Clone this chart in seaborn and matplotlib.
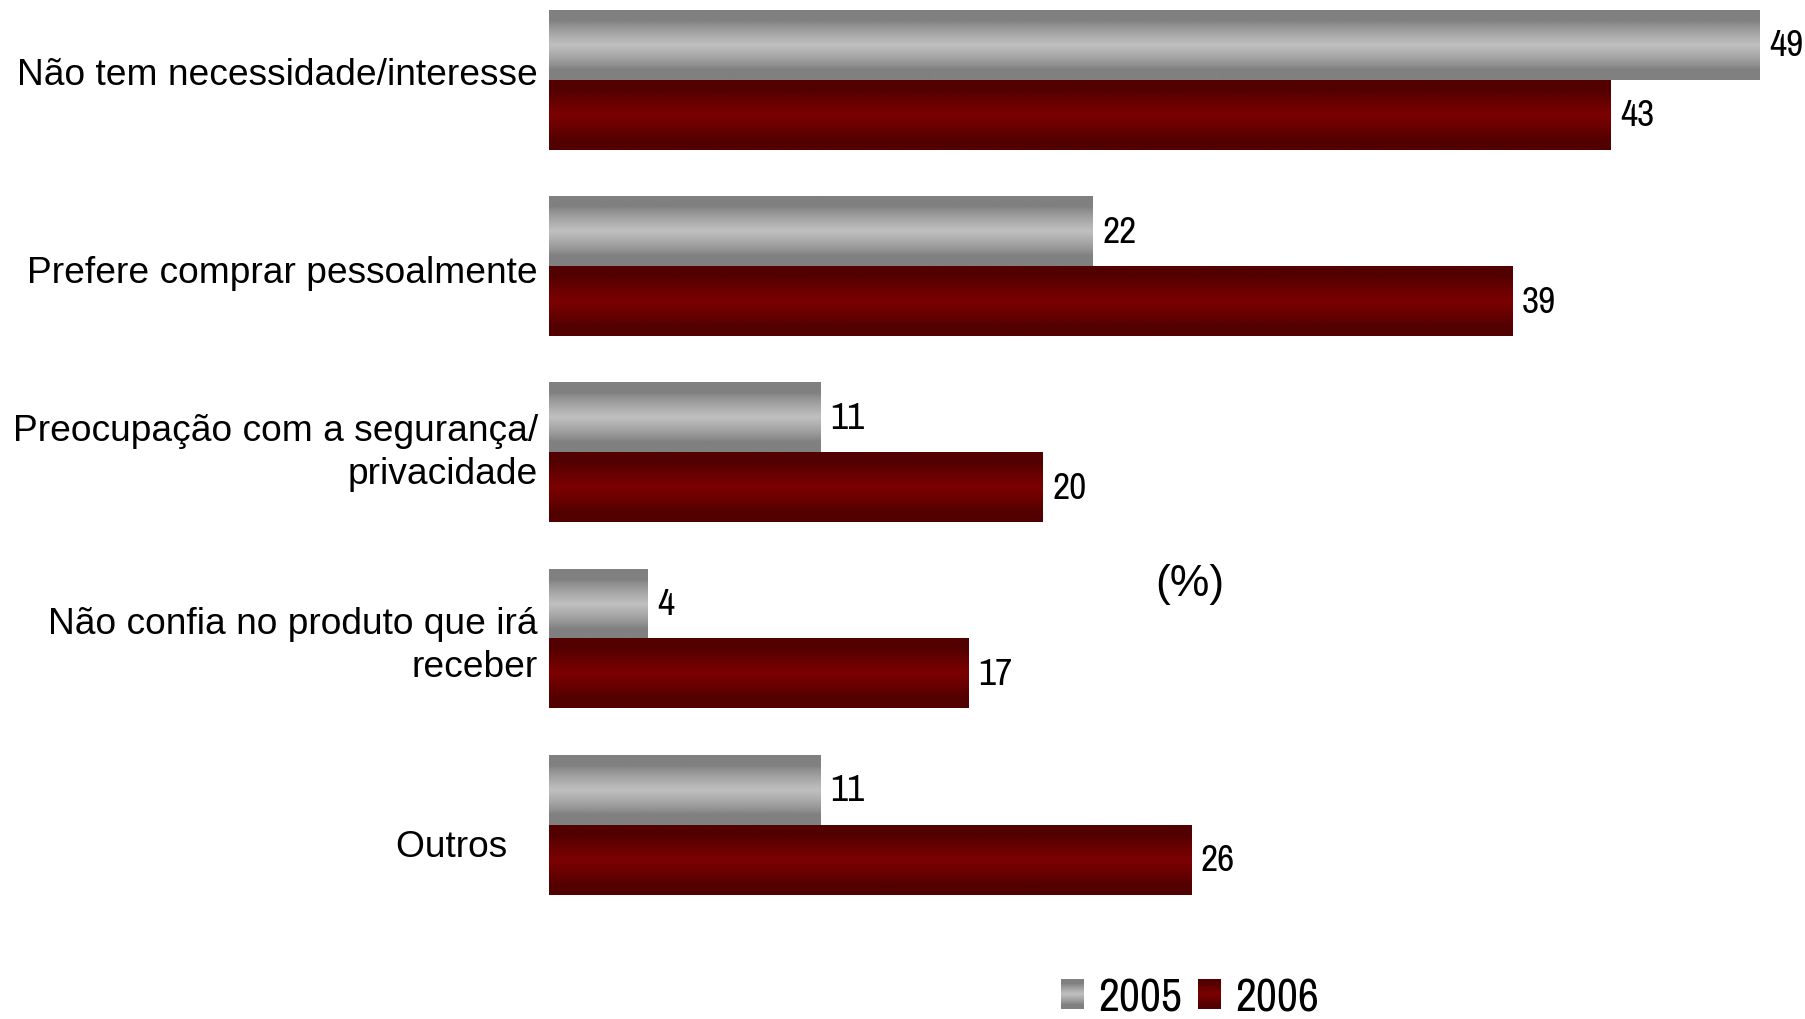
import numpy as np
import pandas as pd
import matplotlib as mpl
import matplotlib.pyplot as plt
import matplotlib.transforms as mtransforms
from matplotlib.patches import Patch
from matplotlib.legend_handler import HandlerBase
from matplotlib.image import BboxImage
import seaborn as sns

sns.set_style("white")
plt.rcParams["font.family"] = ["Liberation Sans", "DejaVu Sans"]
plt.rcParams["text.color"] = "black"
plt.rcParams["ytick.color"] = "black"
NARROW = ["Archivo Narrow", "Liberation Sans", "DejaVu Sans"]

motivos = [
    "Não tem necessidade/interesse",
    "Prefere comprar pessoalmente",
    "Preocupação com a segurança/\nprivacidade",
    "Não confia no produto que irá\nreceber",
    "Outros   ",
]
anos = ["2005", "2006"]
valores_2005 = [49, 22, 11, 4, 11]
valores_2006 = [43, 39, 20, 17, 26]

cores = {"2005": "#a8a8a8", "2006": "#6e0000"}
# cor da borda / cor do centro do degradê
degrade = {"2005": ("#808080", "#c0c0c0"), "2006": ("#520000", "#7b0000")}

df = pd.DataFrame({
    "motivo": motivos * 2,
    "ano": [anos[0]] * len(motivos) + [anos[1]] * len(motivos),
    "valor": valores_2005 + valores_2006,
})


def faz_degrade(ano, n=64):
    t = np.linspace(0, 1, n)
    perfil = np.clip(1 - np.abs(t - 0.5) * 2 / 0.7, 0, 1) ** 0.8
    borda, centro = (np.array(mpl.colors.to_rgb(c)) for c in degrade[ano])
    img = borda[None, :] + perfil[:, None] * (centro - borda)[None, :]
    return img[:, None, :]


class HandlerDegrade(HandlerBase):
    def __init__(self, img):
        super().__init__()
        self.img = img

    def create_artists(self, legend, orig_handle, xdescent, ydescent, width, height, fontsize, trans):
        bb = mtransforms.TransformedBbox(
            mtransforms.Bbox.from_bounds(-xdescent, -ydescent, width, height), trans)
        return [BboxImage(bb, data=self.img, interpolation="bilinear")]


fig = plt.figure(figsize=(18.06, 10.20), dpi=100)
ax = fig.add_axes([0.304, 0.099, 0.696, 0.901])

sns.barplot(data=df, y="motivo", x="valor", hue="ano", hue_order=anos,
            palette=cores, orient="h", width=0.75, legend=False, ax=ax)

# degradê vertical em cada barra
for cont, ano in zip(ax.containers, anos):
    img = faz_degrade(ano)
    for p in cont.patches:
        x0, y0, w, h = p.get_x(), p.get_y(), p.get_width(), p.get_height()
        ax.imshow(img, extent=(x0, x0 + w, y0 + h, y0), aspect="auto",
                  interpolation="bilinear", zorder=2)
        p.set_visible(False)

for cont in ax.containers:
    ax.bar_label(cont, fmt="%g", padding=7, fontsize=27, family=NARROW, color="black")

ax.set_xlim(0, 50.9)
ax.set_ylim(4.5, -0.434)
ax.set_xlabel("")
ax.set_ylabel("")
ax.set_xticks([])
ax.tick_params(axis="y", length=0, pad=8, labelsize=26.7)
for s in ax.spines.values():
    s.set_visible(False)

# pequenos ajustes verticais dos rótulos (polegadas, positivo = para cima)
ajustes = [0.09, -0.02, 0.08, 0.02, -0.18]
for lbl, dy in zip(ax.get_yticklabels(), ajustes):
    lbl.set_linespacing(1.3)
    lbl.set_transform(lbl.get_transform() + mtransforms.ScaledTranslation(0, dy, fig.dpi_scale_trans))

fig.text(0.659, 0.427, "(%)", fontsize=32, ha="center", va="center")

handles = [Patch(facecolor=cores[a], edgecolor="none") for a in anos]
fig.legend(handles, anos, loc="center", bbox_to_anchor=(0.659, 0.021), ncol=2,
           frameon=False, handlelength=0.49, handleheight=0.61,
           handletextpad=0.32, columnspacing=0.36, borderpad=0,
           handler_map={h: HandlerDegrade(faz_degrade(a)) for h, a in zip(handles, anos)},
           prop={"family": NARROW, "size": 33})

fig.savefig("out.png", dpi=100)
